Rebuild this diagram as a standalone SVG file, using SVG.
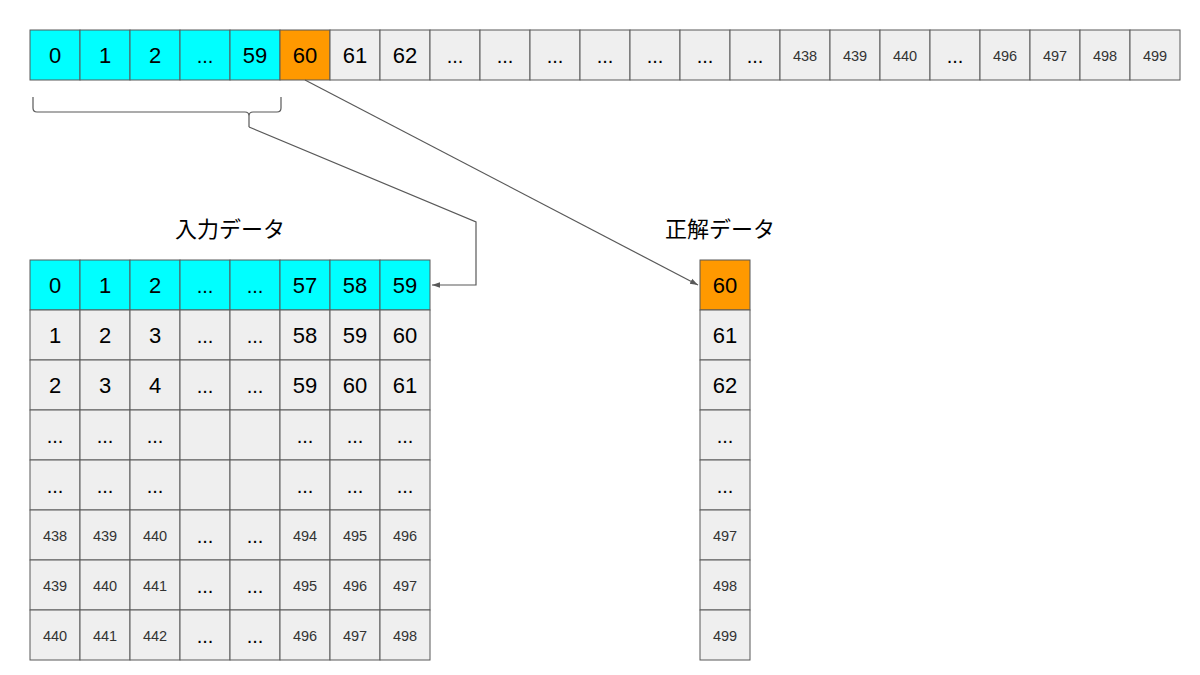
<svg xmlns="http://www.w3.org/2000/svg" width="1200" height="675" viewBox="0 0 1200 675">
<defs>
<style>
.c{stroke:#595959;stroke-width:1;}
.g{fill:#efefef;}
.cy{fill:#00ffff;}
.or{fill:#ff9900;}
text{font-family:"Liberation Sans",Arial,sans-serif;fill:#000;text-anchor:middle;}
.L{font-size:22px;}
.D{font-size:20px;}
.S{font-size:14.5px;fill:#333;}
.T{font-family:"Noto Sans CJK JP","Noto Sans",sans-serif;font-size:22px;fill:#000;}
.ln{fill:none;stroke:#595959;stroke-width:1.2;}
</style>
<marker id="ah" viewBox="0 0 10 10" refX="10" refY="5" markerWidth="8" markerHeight="8" orient="auto" markerUnits="userSpaceOnUse">
<path d="M0,1.5 L10,5 L0,8.5 z" fill="#595959"/>
</marker>
</defs>
<rect width="1200" height="675" fill="#fff"/>

<g id="top-row">
<rect class="c cy" x="30" y="30" width="50" height="50"/><text class="L" x="55" y="63">0</text>
<rect class="c cy" x="80" y="30" width="50" height="50"/><text class="L" x="105" y="63">1</text>
<rect class="c cy" x="130" y="30" width="50" height="50"/><text class="L" x="155" y="63">2</text>
<rect class="c cy" x="180" y="30" width="50" height="50"/><text class="D" x="205" y="63">...</text>
<rect class="c cy" x="230" y="30" width="50" height="50"/><text class="L" x="255" y="63">59</text>
<rect class="c or" x="280" y="30" width="50" height="50"/><text class="L" x="305" y="63">60</text>
<rect class="c g" x="330" y="30" width="50" height="50"/><text class="L" x="355" y="63">61</text>
<rect class="c g" x="380" y="30" width="50" height="50"/><text class="L" x="405" y="63">62</text>
<rect class="c g" x="430" y="30" width="50" height="50"/><text class="D" x="455" y="63">...</text>
<rect class="c g" x="480" y="30" width="50" height="50"/><text class="D" x="505" y="63">...</text>
<rect class="c g" x="530" y="30" width="50" height="50"/><text class="D" x="555" y="63">...</text>
<rect class="c g" x="580" y="30" width="50" height="50"/><text class="D" x="605" y="63">...</text>
<rect class="c g" x="630" y="30" width="50" height="50"/><text class="D" x="655" y="63">...</text>
<rect class="c g" x="680" y="30" width="50" height="50"/><text class="D" x="705" y="63">...</text>
<rect class="c g" x="730" y="30" width="50" height="50"/><text class="D" x="755" y="63">...</text>
<rect class="c g" x="780" y="30" width="50" height="50"/><text class="S" x="805" y="61">438</text>
<rect class="c g" x="830" y="30" width="50" height="50"/><text class="S" x="855" y="61">439</text>
<rect class="c g" x="880" y="30" width="50" height="50"/><text class="S" x="905" y="61">440</text>
<rect class="c g" x="930" y="30" width="50" height="50"/><text class="D" x="955" y="63">...</text>
<rect class="c g" x="980" y="30" width="50" height="50"/><text class="S" x="1005" y="61">496</text>
<rect class="c g" x="1030" y="30" width="50" height="50"/><text class="S" x="1055" y="61">497</text>
<rect class="c g" x="1080" y="30" width="50" height="50"/><text class="S" x="1105" y="61">498</text>
<rect class="c g" x="1130" y="30" width="50" height="50"/><text class="S" x="1155" y="61">499</text>
</g>

<g id="brace">
<path class="ln" d="M33,97 L33,108 Q33,112 37,112 L245,112 Q249,112 249,116 L249,127 M249,116 Q249,112 253,112 L277,112 Q281,112 281,108 L281,97"/>
</g>

<g id="input-title"><text class="T" x="230" y="237">入力データ</text></g>
<g id="answer-title"><text class="T" x="720" y="237">正解データ</text></g>

<g id="input-grid">
<rect class="c cy" x="30" y="260" width="50" height="50"/><text class="L" x="55" y="293">0</text>
<rect class="c cy" x="80" y="260" width="50" height="50"/><text class="L" x="105" y="293">1</text>
<rect class="c cy" x="130" y="260" width="50" height="50"/><text class="L" x="155" y="293">2</text>
<rect class="c cy" x="180" y="260" width="50" height="50"/><text class="D" x="205" y="293">...</text>
<rect class="c cy" x="230" y="260" width="50" height="50"/><text class="D" x="255" y="293">...</text>
<rect class="c cy" x="280" y="260" width="50" height="50"/><text class="L" x="305" y="293">57</text>
<rect class="c cy" x="330" y="260" width="50" height="50"/><text class="L" x="355" y="293">58</text>
<rect class="c cy" x="380" y="260" width="50" height="50"/><text class="L" x="405" y="293">59</text>

<rect class="c g" x="30" y="310" width="50" height="50"/><text class="L" x="55" y="343">1</text>
<rect class="c g" x="80" y="310" width="50" height="50"/><text class="L" x="105" y="343">2</text>
<rect class="c g" x="130" y="310" width="50" height="50"/><text class="L" x="155" y="343">3</text>
<rect class="c g" x="180" y="310" width="50" height="50"/><text class="D" x="205" y="343">...</text>
<rect class="c g" x="230" y="310" width="50" height="50"/><text class="D" x="255" y="343">...</text>
<rect class="c g" x="280" y="310" width="50" height="50"/><text class="L" x="305" y="343">58</text>
<rect class="c g" x="330" y="310" width="50" height="50"/><text class="L" x="355" y="343">59</text>
<rect class="c g" x="380" y="310" width="50" height="50"/><text class="L" x="405" y="343">60</text>

<rect class="c g" x="30" y="360" width="50" height="50"/><text class="L" x="55" y="393">2</text>
<rect class="c g" x="80" y="360" width="50" height="50"/><text class="L" x="105" y="393">3</text>
<rect class="c g" x="130" y="360" width="50" height="50"/><text class="L" x="155" y="393">4</text>
<rect class="c g" x="180" y="360" width="50" height="50"/><text class="D" x="205" y="393">...</text>
<rect class="c g" x="230" y="360" width="50" height="50"/><text class="D" x="255" y="393">...</text>
<rect class="c g" x="280" y="360" width="50" height="50"/><text class="L" x="305" y="393">59</text>
<rect class="c g" x="330" y="360" width="50" height="50"/><text class="L" x="355" y="393">60</text>
<rect class="c g" x="380" y="360" width="50" height="50"/><text class="L" x="405" y="393">61</text>

<rect class="c g" x="30" y="410" width="50" height="50"/><text class="D" x="55" y="443">...</text>
<rect class="c g" x="80" y="410" width="50" height="50"/><text class="D" x="105" y="443">...</text>
<rect class="c g" x="130" y="410" width="50" height="50"/><text class="D" x="155" y="443">...</text>
<rect class="c g" x="180" y="410" width="50" height="50"/>
<rect class="c g" x="230" y="410" width="50" height="50"/>
<rect class="c g" x="280" y="410" width="50" height="50"/><text class="D" x="305" y="443">...</text>
<rect class="c g" x="330" y="410" width="50" height="50"/><text class="D" x="355" y="443">...</text>
<rect class="c g" x="380" y="410" width="50" height="50"/><text class="D" x="405" y="443">...</text>

<rect class="c g" x="30" y="460" width="50" height="50"/><text class="D" x="55" y="493">...</text>
<rect class="c g" x="80" y="460" width="50" height="50"/><text class="D" x="105" y="493">...</text>
<rect class="c g" x="130" y="460" width="50" height="50"/><text class="D" x="155" y="493">...</text>
<rect class="c g" x="180" y="460" width="50" height="50"/>
<rect class="c g" x="230" y="460" width="50" height="50"/>
<rect class="c g" x="280" y="460" width="50" height="50"/><text class="D" x="305" y="493">...</text>
<rect class="c g" x="330" y="460" width="50" height="50"/><text class="D" x="355" y="493">...</text>
<rect class="c g" x="380" y="460" width="50" height="50"/><text class="D" x="405" y="493">...</text>

<rect class="c g" x="30" y="510" width="50" height="50"/><text class="S" x="55" y="541">438</text>
<rect class="c g" x="80" y="510" width="50" height="50"/><text class="S" x="105" y="541">439</text>
<rect class="c g" x="130" y="510" width="50" height="50"/><text class="S" x="155" y="541">440</text>
<rect class="c g" x="180" y="510" width="50" height="50"/><text class="D" x="205" y="543">...</text>
<rect class="c g" x="230" y="510" width="50" height="50"/><text class="D" x="255" y="543">...</text>
<rect class="c g" x="280" y="510" width="50" height="50"/><text class="S" x="305" y="541">494</text>
<rect class="c g" x="330" y="510" width="50" height="50"/><text class="S" x="355" y="541">495</text>
<rect class="c g" x="380" y="510" width="50" height="50"/><text class="S" x="405" y="541">496</text>

<rect class="c g" x="30" y="560" width="50" height="50"/><text class="S" x="55" y="591">439</text>
<rect class="c g" x="80" y="560" width="50" height="50"/><text class="S" x="105" y="591">440</text>
<rect class="c g" x="130" y="560" width="50" height="50"/><text class="S" x="155" y="591">441</text>
<rect class="c g" x="180" y="560" width="50" height="50"/><text class="D" x="205" y="593">...</text>
<rect class="c g" x="230" y="560" width="50" height="50"/><text class="D" x="255" y="593">...</text>
<rect class="c g" x="280" y="560" width="50" height="50"/><text class="S" x="305" y="591">495</text>
<rect class="c g" x="330" y="560" width="50" height="50"/><text class="S" x="355" y="591">496</text>
<rect class="c g" x="380" y="560" width="50" height="50"/><text class="S" x="405" y="591">497</text>

<rect class="c g" x="30" y="610" width="50" height="50"/><text class="S" x="55" y="641">440</text>
<rect class="c g" x="80" y="610" width="50" height="50"/><text class="S" x="105" y="641">441</text>
<rect class="c g" x="130" y="610" width="50" height="50"/><text class="S" x="155" y="641">442</text>
<rect class="c g" x="180" y="610" width="50" height="50"/><text class="D" x="205" y="643">...</text>
<rect class="c g" x="230" y="610" width="50" height="50"/><text class="D" x="255" y="643">...</text>
<rect class="c g" x="280" y="610" width="50" height="50"/><text class="S" x="305" y="641">496</text>
<rect class="c g" x="330" y="610" width="50" height="50"/><text class="S" x="355" y="641">497</text>
<rect class="c g" x="380" y="610" width="50" height="50"/><text class="S" x="405" y="641">498</text>
</g>

<g id="answer-column">
<rect class="c or" x="700" y="260" width="50" height="50"/><text class="L" x="725" y="293">60</text>
<rect class="c g" x="700" y="310" width="50" height="50"/><text class="L" x="725" y="343">61</text>
<rect class="c g" x="700" y="360" width="50" height="50"/><text class="L" x="725" y="393">62</text>
<rect class="c g" x="700" y="410" width="50" height="50"/><text class="D" x="725" y="443">...</text>
<rect class="c g" x="700" y="460" width="50" height="50"/><text class="D" x="725" y="493">...</text>
<rect class="c g" x="700" y="510" width="50" height="50"/><text class="S" x="725" y="541">497</text>
<rect class="c g" x="700" y="560" width="50" height="50"/><text class="S" x="725" y="591">498</text>
<rect class="c g" x="700" y="610" width="50" height="50"/><text class="S" x="725" y="641">499</text>
</g>

<g id="connectors">
<polyline class="ln" points="249,127 476,222 476,285 432,285" marker-end="url(#ah)"/>
<line class="ln" x1="305" y1="80" x2="698" y2="285" marker-end="url(#ah)"/>
</g>
</svg>
